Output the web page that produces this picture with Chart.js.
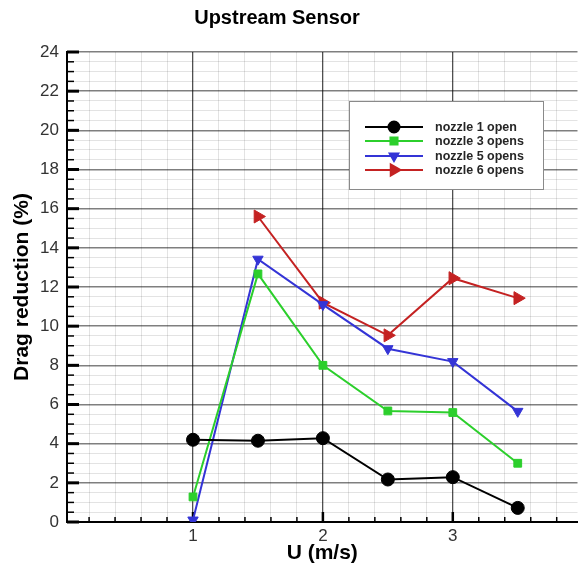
<!DOCTYPE html>
<html>
<head>
<meta charset="utf-8">
<script src="https://cdn.jsdelivr.net/npm/chart.js@4/dist/chart.umd.min.js"></script>
<style>
  html, body { margin: 0; padding: 0; background: #fff; overflow: hidden; }
  #wrap { position: relative; width: 586px; height: 569px; }
</style>
</head>
<body>
<div id="wrap"><canvas id="c" width="586" height="569"></canvas></div>
<script>
// Flow speed U (m/s) and drag reduction (%) for each nozzle configuration
const speeds = [1, 1.5, 2, 2.5, 3, 3.5];
const nozzle1Open  = [4.2, 4.15, 4.28, 2.17, 2.29, 0.72];
const nozzle3Opens = [1.28, 12.67, 8.0, 5.67, 5.59, 3.0];
const nozzle5Opens = [0.1, 13.42, 11.1, 8.85, 8.19, 5.65];
const nozzle6Opens = [null, 15.6, 11.2, 9.53, 12.45, 11.43];
const seriesNames = ['nozzle 1 open', 'nozzle 3 opens', 'nozzle 5 opens', 'nozzle 6 opens'];

// Axis labels
const xTickLabels = [1, 2, 3];
const yTickLabels = [0, 2, 4, 6, 8, 10, 12, 14, 16, 18, 20, 22, 24];

const FONT = '"Liberation Sans", Arial, sans-serif';

const styles = [
  { color: '#000000', pointStyle: 'circle',   radius: 6.5, rotation: 0,   legendR: 5.5 },
  { color: '#2ccf2c', pointStyle: 'rect',     radius: 5.5, rotation: 0,   legendR: 5 },
  { color: '#3434d6', pointStyle: 'triangle', radius: 6,   rotation: 180, legendR: 5 },
  { color: '#c42222', pointStyle: 'triangle', radius: 7.5, rotation: 90,  legendR: 6.5 }
];
const seriesValues = [nozzle1Open, nozzle3Opens, nozzle5Opens, nozzle6Opens];

const datasets = seriesValues.map((vals, i) => ({
  label: seriesNames[i],
  data: speeds.map((x, k) => ({ x: x, y: vals[k] })).filter(p => p.y !== null),
  borderColor: styles[i].color,
  backgroundColor: styles[i].color,
  borderWidth: 2,
  pointStyle: styles[i].pointStyle,
  pointRadius: styles[i].radius,
  pointRotation: styles[i].rotation,
  pointBackgroundColor: styles[i].color,
  pointBorderColor: styles[i].color,
  pointBorderWidth: 1,
  tension: 0,
  fill: false
}));

// Minor grid steps: 0.2 along U, 0.5 along drag reduction
const xGrid = [];
for (let i = 1; i <= 19; i++) xGrid.push(Math.round(i * 2) / 10);
const yGrid = [];
for (let i = 0; i <= 48; i++) yGrid.push(i / 2);

const isXMajor = v => xTickLabels.includes(v);
const isYMajor = v => yTickLabels.includes(v);

// Inward tick marks, chart title and framed legend box
const decor = {
  id: 'decor',
  beforeDatasetsDraw(chart) {
    const ctx = chart.ctx;
    const xs = chart.scales.x, ys = chart.scales.y;
    const a = chart.chartArea;
    ctx.save();
    ctx.strokeStyle = '#000';
    yGrid.forEach(v => {
      const y = ys.getPixelForValue(v);
      const major = isYMajor(v);
      ctx.lineWidth = major ? 3 : 1.5;
      ctx.beginPath();
      ctx.moveTo(a.left, y);
      ctx.lineTo(a.left + (major ? 12 : 7), y);
      ctx.stroke();
    });
    xGrid.forEach(v => {
      const x = xs.getPixelForValue(v);
      const major = isXMajor(v);
      ctx.lineWidth = major ? 2.5 : 1.5;
      ctx.beginPath();
      ctx.moveTo(x, a.bottom);
      ctx.lineTo(x, a.bottom - (major ? 10 : 5));
      ctx.stroke();
    });
    ctx.restore();
  },
  afterDraw(chart) {
    const ctx = chart.ctx;
    ctx.save();
    // Title
    ctx.fillStyle = '#000';
    ctx.font = 'bold 20px ' + FONT;
    ctx.textAlign = 'center';
    ctx.textBaseline = 'middle';
    ctx.fillText('Upstream Sensor', 277, 18);

    // Legend box
    const bx = 349, by = 101, bw = 194, bh = 88;
    ctx.fillStyle = '#fff';
    ctx.fillRect(bx, by, bw, bh);
    ctx.strokeStyle = '#8a8a8a';
    ctx.lineWidth = 1;
    ctx.strokeRect(bx + 0.5, by + 0.5, bw, bh);

    const rows = [127, 141, 156, 170];
    ctx.font = 'bold 12.5px ' + FONT;
    ctx.textAlign = 'left';
    rows.forEach((ry, i) => {
      const s = styles[i];
      ctx.strokeStyle = s.color;
      ctx.fillStyle = s.color;
      ctx.lineWidth = 2;
      ctx.beginPath();
      ctx.moveTo(365, ry);
      ctx.lineTo(423, ry);
      ctx.stroke();
      Chart.helpers.drawPoint(ctx, {
        pointStyle: s.pointStyle, radius: s.legendR, rotation: s.rotation, borderWidth: 1
      }, 394, ry);
      ctx.fillStyle = '#262626';
      ctx.fillText(seriesNames[i], 435, ry + 0.5);
    });
    ctx.restore();
  }
};

new Chart(document.getElementById('c'), {
  type: 'line',
  data: { datasets },
  options: {
    responsive: false,
    animation: false,
    layout: { padding: { top: 52, right: 0, left: 0, bottom: 0 } },
    plugins: { legend: { display: false }, tooltip: { enabled: false }, title: { display: false } },
    scales: {
      x: {
        type: 'linear',
        min: 0.03,
        max: 3.96,
        afterBuildTicks: s => { s.ticks = xGrid.map(v => ({ value: v })); },
        afterFit: s => { s.height = 47; },
        border: { display: true, color: '#000', width: 2 },
        grid: {
          drawTicks: false,
          color: c => isXMajor(c.tick.value) ? '#505050' : 'rgba(0,0,0,0.11)',
          lineWidth: c => isXMajor(c.tick.value) ? 1.3 : 1
        },
        ticks: {
          autoSkip: false,
          maxRotation: 0,
          padding: 4,
          color: '#333',
          font: { family: FONT, size: 17 },
          callback: v => isXMajor(v) ? String(v) : ''
        },
        title: {
          display: true,
          text: 'U (m/s)',
          color: '#000',
          font: { family: FONT, size: 21, weight: 'bold' },
          padding: { top: 0, bottom: 3 }
        }
      },
      y: {
        type: 'linear',
        min: 0,
        max: 24,
        afterBuildTicks: s => { s.ticks = yGrid.map(v => ({ value: v })); },
        afterFit: s => { s.width = 67; },
        border: { display: true, color: '#000', width: 2 },
        grid: {
          drawTicks: false,
          color: c => isYMajor(c.tick.value) ? 'rgba(0,0,0,0.5)' : 'rgba(0,0,0,0.11)',
          lineWidth: c => isYMajor(c.tick.value) ? 1.6 : 1
        },
        ticks: {
          autoSkip: false,
          padding: 8,
          color: '#333',
          font: { family: FONT, size: 17 },
          callback: v => isYMajor(v) ? String(v) : ''
        },
        title: {
          display: true,
          text: 'Drag reduction (%)',
          color: '#000',
          font: { family: FONT, size: 21, weight: 'bold' },
          padding: { top: 10, bottom: 0 }
        }
      }
    }
  },
  plugins: [decor]
});
</script>
</body>
</html>
